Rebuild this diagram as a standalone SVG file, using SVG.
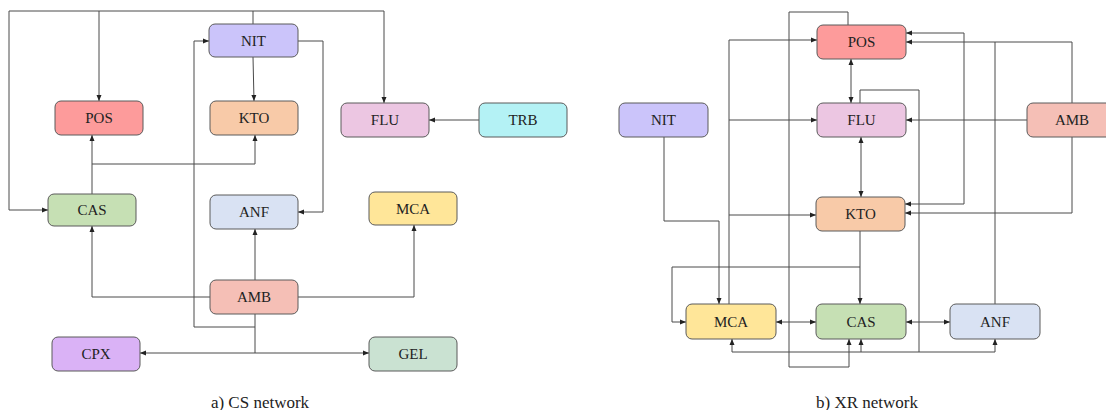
<svg xmlns="http://www.w3.org/2000/svg" width="1106" height="410" viewBox="0 0 1106 410">
<style>
.n{stroke:#5a5a5a;stroke-width:1;}
.t{font-family:Liberation Serif, Tinos, Times New Roman, DejaVu Serif, serif;font-size:15px;fill:#222;text-anchor:middle;dominant-baseline:central;}
.cap{font-family:Liberation Serif, Tinos, Times New Roman, DejaVu Serif, serif;font-size:17px;fill:#222;text-anchor:middle;}
.c path{fill:none;stroke:#4a4a4a;stroke-width:1;}
.e{marker-end:url(#ah);}
.b{marker-end:url(#ah);marker-start:url(#ah);}
</style>
<defs>
<marker id="ah" markerUnits="userSpaceOnUse" markerWidth="6" markerHeight="6" refX="6" refY="3" orient="auto-start-reverse">
<path d="M0,0.5 L6,3 L0,5.5 z" fill="#222"/>
</marker>
</defs>
<rect width="1106" height="410" fill="#fff"/>

<g class="c" id="connectors-left">
<path class="e" d="M253,24 V11 H99 V101"/>
<path class="e" d="M99,11 H9 V210 H48"/>
<path class="e" d="M253,11 H384 V103"/>
<path class="e" d="M253,57 L254,101"/>
<path class="e" d="M92,194 V135"/>
<path class="e" d="M92,164 H255 V135"/>
<path class="e" d="M298,41 H323 V212 H298"/>
<path class="e" d="M255,314 V327 H194 V41 H209"/>
<path class="e" d="M255,327 V353 H140"/>
<path class="e" d="M255,353 H369"/>
<path class="e" d="M210,297 H92 V226"/>
<path class="e" d="M255,280 V229"/>
<path class="e" d="M298,297 H414 V225"/>
<path class="e" d="M479,120 H429"/>
</g>

<g class="c" id="connectors-right">
<path class="e" d="M848,25 V12 H789 V367 H849 V339"/>
<path class="e" d="M729,304 V40 H817"/>
<path class="e" d="M729,120 H817"/>
<path class="e" d="M729,215 H816"/>
<path class="e" d="M664,137 V221 H719 V304"/>
<path class="b" d="M851,59 V103"/>
<path class="b" d="M861,137 V197"/>
<path class="e" d="M860,103 V90 H919 V352 H861 V339"/>
<path class="e" d="M861,352 H732 V339"/>
<path class="e" d="M919,352 H995 V339"/>
<path class="e" d="M860,231 V304"/>
<path class="e" d="M860,267 H672 V322 H686"/>
<path class="b" d="M776,322 H816"/>
<path class="b" d="M906,322 H950"/>
<path class="b" d="M906,33 H964 V204 H905"/>
<path class="e" d="M995,304 V42 H906"/>
<path d="M1072,103 V42 H995"/>
<path class="e" d="M1072,137 V213 H905"/>
<path class="e" d="M1027,120 H906"/>
</g>

<g id="L-NIT"><rect class="n" x="209" y="24" width="89" height="33" rx="6" fill="#cbc4fa"/><text class="t" x="253.5" y="41">NIT</text></g>
<g id="L-POS"><rect class="n" x="55" y="101" width="88" height="34" rx="6" fill="#fd9b9b"/><text class="t" x="99" y="118">POS</text></g>
<g id="L-KTO"><rect class="n" x="210" y="101" width="88" height="34" rx="6" fill="#f8caa8"/><text class="t" x="254" y="118">KTO</text></g>
<g id="L-FLU"><rect class="n" x="341" y="103" width="88" height="34" rx="6" fill="#ecc6e2"/><text class="t" x="385" y="120">FLU</text></g>
<g id="L-TRB"><rect class="n" x="479" y="103" width="88" height="34" rx="6" fill="#b4f2f5"/><text class="t" x="523" y="120">TRB</text></g>
<g id="L-CAS"><rect class="n" x="48" y="194" width="88" height="32" rx="6" fill="#c6e0b4"/><text class="t" x="92" y="210">CAS</text></g>
<g id="L-ANF"><rect class="n" x="210" y="195" width="88" height="34" rx="6" fill="#d9e2f3"/><text class="t" x="254" y="212">ANF</text></g>
<g id="L-MCA"><rect class="n" x="369" y="192" width="88" height="33" rx="6" fill="#ffe699"/><text class="t" x="413" y="208.5">MCA</text></g>
<g id="L-AMB"><rect class="n" x="210" y="280" width="88" height="34" rx="6" fill="#f5bfb6"/><text class="t" x="254" y="297">AMB</text></g>
<g id="L-CPX"><rect class="n" x="52" y="337" width="88" height="34" rx="6" fill="#dab2f6"/><text class="t" x="96" y="354">CPX</text></g>
<g id="L-GEL"><rect class="n" x="369" y="337" width="88" height="34" rx="6" fill="#cae2d2"/><text class="t" x="413" y="354">GEL</text></g>

<g id="R-POS"><rect class="n" x="817" y="25" width="89" height="34" rx="6" fill="#fd9b9b"/><text class="t" x="861.5" y="42">POS</text></g>
<g id="R-FLU"><rect class="n" x="817" y="103" width="89" height="34" rx="6" fill="#ecc6e2"/><text class="t" x="861.5" y="120">FLU</text></g>
<g id="R-KTO"><rect class="n" x="816" y="197" width="89" height="34" rx="6" fill="#f8caa8"/><text class="t" x="860.5" y="214">KTO</text></g>
<g id="R-NIT"><rect class="n" x="619" y="103" width="89" height="34" rx="6" fill="#cbc4fa"/><text class="t" x="663.5" y="120">NIT</text></g>
<g id="R-AMB"><rect class="n" x="1027" y="103" width="90" height="34" rx="6" fill="#f5bfb6"/><text class="t" x="1072" y="120">AMB</text></g>
<g id="R-MCA"><rect class="n" x="686" y="304" width="90" height="35" rx="6" fill="#ffe699"/><text class="t" x="731" y="321.5">MCA</text></g>
<g id="R-CAS"><rect class="n" x="816" y="304" width="90" height="35" rx="6" fill="#c6e0b4"/><text class="t" x="861" y="321.5">CAS</text></g>
<g id="R-ANF"><rect class="n" x="950" y="304" width="90" height="35" rx="6" fill="#d9e2f3"/><text class="t" x="995" y="321.5">ANF</text></g>

<text class="cap" x="260" y="408">a) CS network</text>
<text class="cap" x="867" y="408">b) XR network</text>
</svg>
